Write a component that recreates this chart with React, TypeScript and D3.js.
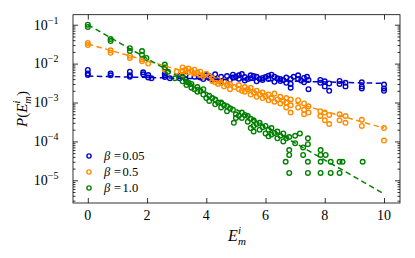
import React, { useEffect, useRef } from 'react';
import * as d3 from 'd3';

// [E, P] pairs
const beta005: [number, number][] = [
  [0, 6.9e-3], [0, 5.6e-3], [0, 5.1e-3], [0.77, 5.6e-3], [0.77, 5.0e-3],
  [1.42, 6.2e-3], [1.42, 5.0e-3], [1.42, 4.6e-3], [1.87, 6.0e-3], [1.87, 5.3e-3],
  [2.04, 5.1e-3], [2.04, 4.4e-3], [2.15, 4.2e-3], [2.6, 5.5e-3], [2.6, 5.0e-3],
  [2.6, 4.5e-3], [2.77, 4.2e-3], [3.1, 4.8e-3], [3.1, 4.2e-3], [3.3, 5.0e-3],
  [3.3, 4.0e-3], [3.6, 4.6e-3], [3.8, 4.4e-3], [3.9, 4.0e-3], [4.0, 5.0e-3],
  [4.1, 4.8e-3], [4.1, 4.3e-3], [4.2, 3.9e-3], [4.3, 5.3e-3], [4.3, 4.0e-3],
  [4.5, 4.6e-3], [4.5, 3.6e-3], [4.7, 4.8e-3], [4.8, 3.9e-3], [4.9, 5.2e-3],
  [4.9, 4.4e-3], [5.0, 4.6e-3], [5.1, 5.0e-3], [5.1, 4.1e-3], [5.2, 5.4e-3],
  [5.3, 4.5e-3], [5.3, 3.7e-3], [5.4, 4.0e-3], [5.5, 5.0e-3], [5.5, 4.2e-3],
  [5.6, 4.8e-3], [5.7, 4.6e-3], [5.7, 3.5e-3], [5.8, 4.0e-3], [5.9, 4.3e-3],
  [5.9, 3.8e-3], [6.0, 4.5e-3], [6.1, 4.9e-3], [6.1, 4.0e-3], [6.2, 5.2e-3],
  [6.3, 4.6e-3], [6.3, 3.4e-3], [6.4, 4.2e-3], [6.5, 4.0e-3], [6.5, 3.6e-3],
  [6.6, 3.8e-3], [6.7, 4.4e-3], [6.7, 3.2e-3], [6.85, 4.0e-3], [6.85, 3.0e-3],
  [6.85, 2.4e-3], [6.95, 4.6e-3], [7.1, 5.0e-3], [7.1, 4.0e-3], [7.2, 3.7e-3],
  [7.3, 4.3e-3], [7.3, 3.3e-3], [7.4, 4.6e-3], [7.45, 3.8e-3], [7.45, 2.2e-3],
  [7.85, 3.8e-3], [7.85, 3.2e-3], [8.0, 3.5e-3], [8.0, 2.6e-3], [8.15, 3.1e-3],
  [8.15, 2.0e-3], [8.5, 3.6e-3], [8.5, 3.0e-3], [8.7, 3.2e-3], [8.7, 2.6e-3],
  [9.25, 3.3e-3], [9.25, 2.6e-3], [9.25, 2.3e-3], [10, 2.9e-3], [10, 2.3e-3],
  [10, 2.0e-3],
];

const beta05: [number, number][] = [
  [0, 3.4e-2], [0, 3.0e-2], [0.77, 2.2e-2], [0.77, 1.9e-2], [1.42, 1.6e-2],
  [1.42, 1.4e-2], [1.83, 1.3e-2], [1.83, 1.15e-2], [2.04, 1.0e-2], [2.6, 8.0e-3],
  [2.6, 7.0e-3], [3.0, 6.2e-3], [3.2, 8.0e-3], [3.2, 6.5e-3], [3.2, 5.2e-3],
  [3.3, 7.0e-3], [3.4, 7.5e-3], [3.4, 6.0e-3], [3.5, 6.5e-3], [3.6, 7.0e-3],
  [3.6, 5.5e-3], [3.7, 5.9e-3], [3.8, 6.2e-3], [3.8, 5.0e-3], [3.9, 4.6e-3],
  [4.0, 5.5e-3], [4.1, 4.8e-3], [4.2, 4.2e-3], [4.2, 3.6e-3], [4.3, 3.3e-3],
  [4.4, 3.8e-3], [4.4, 3.0e-3], [4.5, 3.2e-3], [4.6, 3.5e-3], [4.6, 2.6e-3],
  [4.7, 2.8e-3], [4.8, 3.0e-3], [4.8, 2.2e-3], [4.95, 2.5e-3], [5.1, 2.8e-3],
  [5.1, 2.2e-3], [5.2, 2.0e-3], [5.3, 2.5e-3], [5.3, 1.9e-3], [5.4, 2.2e-3],
  [5.5, 2.4e-3], [5.5, 1.6e-3], [5.6, 1.8e-3], [5.7, 2.0e-3], [5.7, 1.4e-3],
  [5.8, 1.6e-3], [5.9, 1.8e-3], [5.9, 1.3e-3], [6.0, 1.45e-3], [6.1, 1.6e-3],
  [6.1, 1.15e-3], [6.2, 1.3e-3], [6.3, 1.7e-3], [6.3, 1.05e-3], [6.4, 1.2e-3],
  [6.5, 1.4e-3], [6.5, 9.5e-4], [6.6, 1.1e-3], [6.7, 1.3e-3], [6.7, 1.0e-3],
  [6.7, 7.5e-4], [6.85, 1.2e-3], [6.85, 8.5e-4], [6.85, 5.5e-4], [7.1, 1.15e-3],
  [7.1, 7.5e-4], [7.3, 9.5e-4], [7.3, 6.5e-4], [7.3, 5.0e-4], [7.45, 8.0e-4],
  [7.45, 5.5e-4], [7.85, 6.0e-4], [7.85, 4.5e-4], [8.0, 5.5e-4], [8.0, 3.5e-4],
  [8.15, 4.8e-4], [8.15, 2.8e-4], [8.5, 5.0e-4], [8.5, 3.5e-4], [8.7, 4.5e-4],
  [8.7, 3.0e-4], [9.25, 3.6e-4], [9.25, 2.5e-4], [10, 2.2e-4], [10, 1.05e-4],
];

const beta10: [number, number][] = [
  [0, 0.1], [0, 0.088], [0.77, 0.043], [0.77, 0.038], [1.42, 0.025],
  [1.42, 0.021], [1.83, 0.021], [1.83, 0.017], [1.98, 0.014], [2.6, 9.5e-3],
  [2.6, 8.0e-3], [2.71, 6.2e-3], [2.94, 4.2e-3], [3.2, 4.5e-3], [3.2, 3.5e-3],
  [3.33, 3.4e-3], [3.33, 2.8e-3], [3.4, 3.2e-3], [3.5, 3.0e-3], [3.5, 2.4e-3],
  [3.6, 2.2e-3], [3.7, 2.5e-3], [3.7, 1.9e-3], [3.8, 2.0e-3], [3.9, 2.2e-3],
  [3.9, 1.6e-3], [4.0, 1.3e-3], [4.1, 1.5e-3], [4.1, 1.1e-3], [4.2, 1.3e-3],
  [4.3, 1.2e-3], [4.3, 9.0e-4], [4.4, 1.0e-3], [4.5, 1.0e-3], [4.5, 7.5e-4],
  [4.6, 8.5e-4], [4.7, 8.0e-4], [4.7, 6.0e-4], [4.8, 7.0e-4], [4.9, 6.5e-4],
  [4.93, 3.0e-4], [5.0, 5.0e-4], [5.0, 4.0e-4], [5.1, 4.6e-4], [5.2, 5.5e-4],
  [5.2, 4.0e-4], [5.3, 4.8e-4], [5.4, 4.5e-4], [5.4, 3.2e-4], [5.5, 3.8e-4],
  [5.5, 2.2e-4], [5.6, 3.5e-4], [5.6, 2.5e-4], [5.6, 1.8e-4], [5.7, 2.8e-4],
  [5.8, 3.0e-4], [5.8, 2.0e-4], [5.9, 2.3e-4], [6.0, 2.5e-4], [6.0, 1.6e-4],
  [6.1, 2.0e-4], [6.1, 1.35e-4], [6.2, 2.2e-4], [6.2, 1.5e-4], [6.3, 1.65e-4],
  [6.4, 1.8e-4], [6.4, 1.2e-4], [6.5, 1.4e-4], [6.6, 1.6e-4], [6.6, 1.0e-4],
  [6.68, 3.0e-5], [6.7, 1.2e-4], [6.8, 1.3e-4], [6.8, 6.0e-5], [6.8, 4.5e-5],
  [6.8, 1.55e-5], [7.0, 1.4e-4], [7.0, 9.0e-5], [7.16, 1.6e-4], [7.27, 7.0e-5],
  [7.27, 4.5e-5], [7.43, 1.2e-4], [7.43, 8.5e-5], [7.43, 3.0e-5], [7.43, 1.55e-5],
  [7.86, 6.0e-5], [7.86, 4.5e-5], [7.86, 3.0e-5], [7.86, 1.55e-5], [8.03, 4.5e-5],
  [8.2, 3.0e-5], [8.2, 1.55e-5], [8.5, 3.0e-5], [8.5, 1.55e-5], [8.6, 3.0e-5],
  [9.28, 3.0e-5],
];

// dashed fits: value at E=0 and E=10
const fitEnds: [number, number][][] = [
  [[0, 4.8e-3], [10, 3.1e-3]],
  [[0, 3.2e-2], [10, 2.2e-4]],
  [[0, 0.1], [10, 4.5e-6]],
];

const seriesColors = ['#0000cd', '#ff8c00', '#008000'];
const seriesLabels = ['0.05', '0.5', '1.0'];
const xTicks = [0, 2, 4, 6, 8, 10];
const yExponents = [-1, -2, -3, -4, -5];

const FONT = '"Liberation Serif", "DejaVu Serif", serif';

const App = () => {
  const ref = useRef<SVGSVGElement>(null);

  useEffect(() => {
    const W = 415;
    const H = 258;
    const left = 73, right = 400, top = 14.7, bottom = 203;

    const svg = d3.select(ref.current);
    svg.selectAll('*').remove();
    svg.attr('width', W).attr('height', H).style('font-family', FONT);

    const x = d3.scaleLinear().domain([-0.5, 10.54]).range([left, right]);
    const y = d3.scaleLog().domain([2.61e-6, 0.181]).range([bottom, top]);

    const minor: number[] = [];
    for (let k = -6; k <= -1; k++) {
      for (let m = 2; m <= 9; m++) {
        const v = m * Math.pow(10, k);
        if (v > y.domain()[0] && v < y.domain()[1]) minor.push(v);
      }
    }
    const major = yExponents.map(e => Math.pow(10, e));

    const tickAxis = (axis: any) => (g: any) => {
      g.call(axis);
      g.select('.domain').remove();
      g.selectAll('line').attr('stroke', '#000').attr('stroke-width', 0.8);
    };

    // ticks pointing inward on all four sides
    svg.append('g').attr('transform', `translate(0,${bottom})`)
      .call(tickAxis(d3.axisBottom(x).tickValues(xTicks).tickSize(-5).tickFormat(() => '')));
    svg.append('g').attr('transform', `translate(0,${top})`)
      .call(tickAxis(d3.axisTop(x).tickValues(xTicks).tickSize(-5).tickFormat(() => '')));
    svg.append('g').attr('transform', `translate(${left},0)`)
      .call(tickAxis(d3.axisLeft(y).tickValues(major).tickSize(-5).tickFormat(() => '')));
    svg.append('g').attr('transform', `translate(${left},0)`)
      .call(tickAxis(d3.axisLeft(y).tickValues(minor).tickSize(-2.5).tickFormat(() => '')));
    svg.append('g').attr('transform', `translate(${right},0)`)
      .call(tickAxis(d3.axisRight(y).tickValues(major).tickSize(-5).tickFormat(() => '')));
    svg.append('g').attr('transform', `translate(${right},0)`)
      .call(tickAxis(d3.axisRight(y).tickValues(minor).tickSize(-2.5).tickFormat(() => '')));

    // x tick labels
    svg.append('g').selectAll('text').data(xTicks).enter().append('text')
      .attr('x', d => x(d))
      .attr('y', 219.5)
      .attr('text-anchor', 'middle')
      .style('font-size', '14px')
      .text(d => d);

    // y tick labels 10^k
    const yl = svg.append('g').selectAll('text').data(yExponents).enter().append('text')
      .attr('x', 58.5)
      .attr('y', d => y(Math.pow(10, d)) + 4.8)
      .attr('text-anchor', 'end')
      .style('font-size', '14px');
    yl.append('tspan').text('10');
    yl.append('tspan').attr('dy', -6).style('font-size', '10px').text(d => '\u2212' + Math.abs(d));

    // scatter
    const all = [beta005, beta05, beta10];
    all.forEach((pts, i) => {
      svg.append('g').selectAll('circle').data(pts).enter().append('circle')
        .attr('cx', d => x(d[0]))
        .attr('cy', d => y(d[1]))
        .attr('r', 2.3)
        .attr('fill', 'none')
        .attr('stroke', seriesColors[i])
        .attr('stroke-width', 1.4);
    });

    // dashed fit lines
    const line = d3.line<[number, number]>().x(d => x(d[0])).y(d => y(d[1]));
    fitEnds.forEach((seg, i) => {
      svg.append('path')
        .attr('d', line(seg))
        .attr('fill', 'none')
        .attr('stroke', seriesColors[i])
        .attr('stroke-width', 1.5)
        .attr('stroke-dasharray', '5.5,3.5');
    });

    // frame
    svg.append('rect')
      .attr('x', left).attr('y', top)
      .attr('width', right - left).attr('height', bottom - top)
      .attr('fill', 'none').attr('stroke', '#000').attr('stroke-width', 0.8);

    // legend
    const legend = svg.append('g').selectAll('g').data(seriesLabels).enter().append('g')
      .attr('transform', (d, i) => `translate(89,${156 + i * 16})`);
    legend.append('circle')
      .attr('r', 2.1)
      .attr('fill', 'none')
      .attr('stroke', (d, i) => seriesColors[i])
      .attr('stroke-width', 1.4);
    const lt = legend.append('text').attr('y', 4).style('font-size', '12.5px');
    lt.append('tspan').attr('x', 15).style('font-style', 'italic').text('\u03b2');
    lt.append('tspan').attr('x', 25).text('=');
    lt.append('tspan').attr('x', 33.5).text(d => d);

    // axis labels
    const xl = svg.append('text')
      .attr('x', 237).attr('y', 240.5)
      .attr('text-anchor', 'middle')
      .style('font-size', '16px');
    xl.append('tspan').style('font-style', 'italic').text('E');
    xl.append('tspan').attr('dy', -7).style('font-size', '11px').style('font-style', 'italic').text('i');
    xl.append('tspan').attr('dx', -3).attr('dy', 11).style('font-size', '11px').style('font-style', 'italic').text('m');

    const ylab = svg.append('text')
      .attr('transform', 'translate(27,109) rotate(-90)')
      .attr('text-anchor', 'middle')
      .style('font-size', '15px');
    ylab.append('tspan').style('font-style', 'italic').text('P');
    ylab.append('tspan').text('(');
    ylab.append('tspan').style('font-style', 'italic').text('E');
    ylab.append('tspan').attr('dy', -7).style('font-size', '10.5px').style('font-style', 'italic').text('i');
    ylab.append('tspan').attr('dx', -3).attr('dy', 11).style('font-size', '10.5px').style('font-style', 'italic').text('m');
    ylab.append('tspan').attr('dy', -4).text(')');
  }, []);

  return <svg ref={ref} style={{ position: 'absolute', left: 0, top: 0 }} />;
};

export default App;
